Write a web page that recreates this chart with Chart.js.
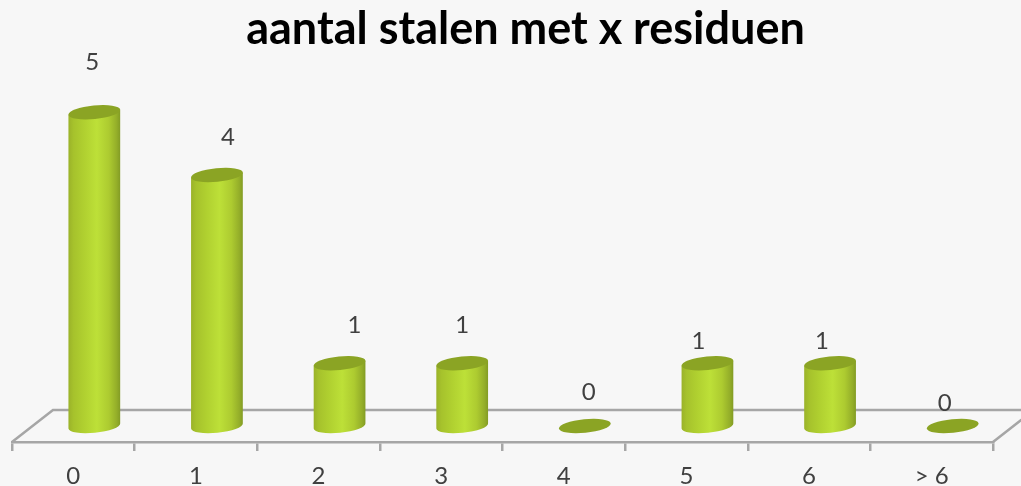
<!DOCTYPE html>
<html><head><meta charset="utf-8">
<style>html,body{margin:0;padding:0;background:#f7f7f7;overflow:hidden}canvas{display:block}</style>
<script src="https://cdn.jsdelivr.net/npm/chart.js@4"></script>
</head><body><canvas id="c" width="1021" height="486"></canvas>
<script>
const categories = ['0','1','2','3','4','5','6','> 6'];
const values = [5,4,1,1,0,1,1,0];
const chartTitle = 'aantal stalen met x residuen';
// hand-placed data label offsets from each cylinder's top centre
const labelNudgeX = [-2,11,15,0,4,-9,-8,-8];
const labelNudgeY = [-50,-38,-38,-38,-34,-21.5,-21.5,-23];

const DEPTH_X = 41, DEPTH_Y = 32, BAR_SHIFT = 21, RX = 26, RY = 6.8, TILT = -0.1;
const TITLE_SHIFT = 23;
const GRID = '#a6a6a6', TEXT = '#404040';

function drawCylinder(ctx, cx, top, base){
  const dx = RX*Math.cos(TILT), dy = RX*Math.sin(TILT);
  if (base - top > 1){
    const g = ctx.createLinearGradient(cx-RX,0,cx+RX,0);
    g.addColorStop(0,'#9ab229'); g.addColorStop(.1,'#a6c22c'); g.addColorStop(.3,'#b0d030');
    g.addColorStop(.55,'#bde038'); g.addColorStop(.78,'#adcb30'); g.addColorStop(.93,'#94ae29'); g.addColorStop(1,'#829b24');
    ctx.beginPath();
    ctx.moveTo(cx-dx, top-dy);
    ctx.lineTo(cx-dx, base-dy);
    ctx.ellipse(cx, base, RX, RY, TILT, Math.PI, 0, true);
    ctx.lineTo(cx+dx, top+dy);
    ctx.closePath();
    ctx.fillStyle = g; ctx.fill();
  }
  ctx.beginPath();
  ctx.ellipse(cx, top, RX, RY, TILT, 0, Math.PI*2);
  ctx.fillStyle = '#8ba424'; ctx.fill();
}

const scene = {
  id:'scene',
  afterLayout(chart){
    chart.titleBlock.left += 2*TITLE_SHIFT;
  },
  beforeDraw(chart){
    const {ctx,width,height} = chart;
    ctx.save(); ctx.fillStyle='#f7f7f7'; ctx.fillRect(0,0,width,height); ctx.restore();
  },
  beforeDatasetsDraw(chart){
    const {ctx,chartArea:a} = chart;
    ctx.save();
    ctx.strokeStyle = GRID; ctx.lineWidth = 2.5;
    ctx.beginPath();
    ctx.moveTo(a.left, a.bottom);
    ctx.lineTo(a.left+DEPTH_X, a.bottom-DEPTH_Y);
    ctx.lineTo(a.right+DEPTH_X, a.bottom-DEPTH_Y);
    ctx.lineTo(a.right, a.bottom);
    ctx.stroke();
    ctx.restore();
    const y0 = chart.scales.y.getPixelForValue(0);
    chart.getDatasetMeta(0).data.forEach(el=>{
      el.draw = function(c){ drawCylinder(c, this.x+BAR_SHIFT, this.y, y0); };
    });
  },
  afterDatasetsDraw(chart){
    const {ctx} = chart;
    ctx.save();
    ctx.fillStyle = TEXT; ctx.font = '24px Lato';
    ctx.textAlign='center'; ctx.textBaseline='middle';
    chart.getDatasetMeta(0).data.forEach((el,i)=>{
      ctx.fillText(String(values[i]), el.x+BAR_SHIFT+labelNudgeX[i], el.y+labelNudgeY[i]);
    });
    ctx.restore();
  }
};

new Chart(document.getElementById('c'),{
  type:'bar',
  data:{labels:categories,datasets:[{data:values,backgroundColor:'#bee23a',borderWidth:0,clip:false}]},
  plugins:[scene],
  options:{
    responsive:false,animation:false,
    layout:{padding:{left:12,right:28,top:0,bottom:0}},
    plugins:{
      legend:{display:false},tooltip:{enabled:false},
      title:{display:true,text:chartTitle,color:'#000',font:{family:'Lato',size:45,weight:'bold'},padding:{top:2,bottom:8}}
    },
    scales:{
      x:{
        afterFit(s){ s.height = 44; },
        grid:{drawOnChartArea:false,drawTicks:true,tickLength:9,color:GRID,lineWidth:2.5,offset:true},
        border:{color:GRID,width:2.5},
        ticks:{color:TEXT,font:{family:'Lato',size:24},padding:11,maxRotation:0}
      },
      y:{display:false,min:-0.255,max:5.769,grid:{display:false}}
    }
  }
});
</script></body></html>
